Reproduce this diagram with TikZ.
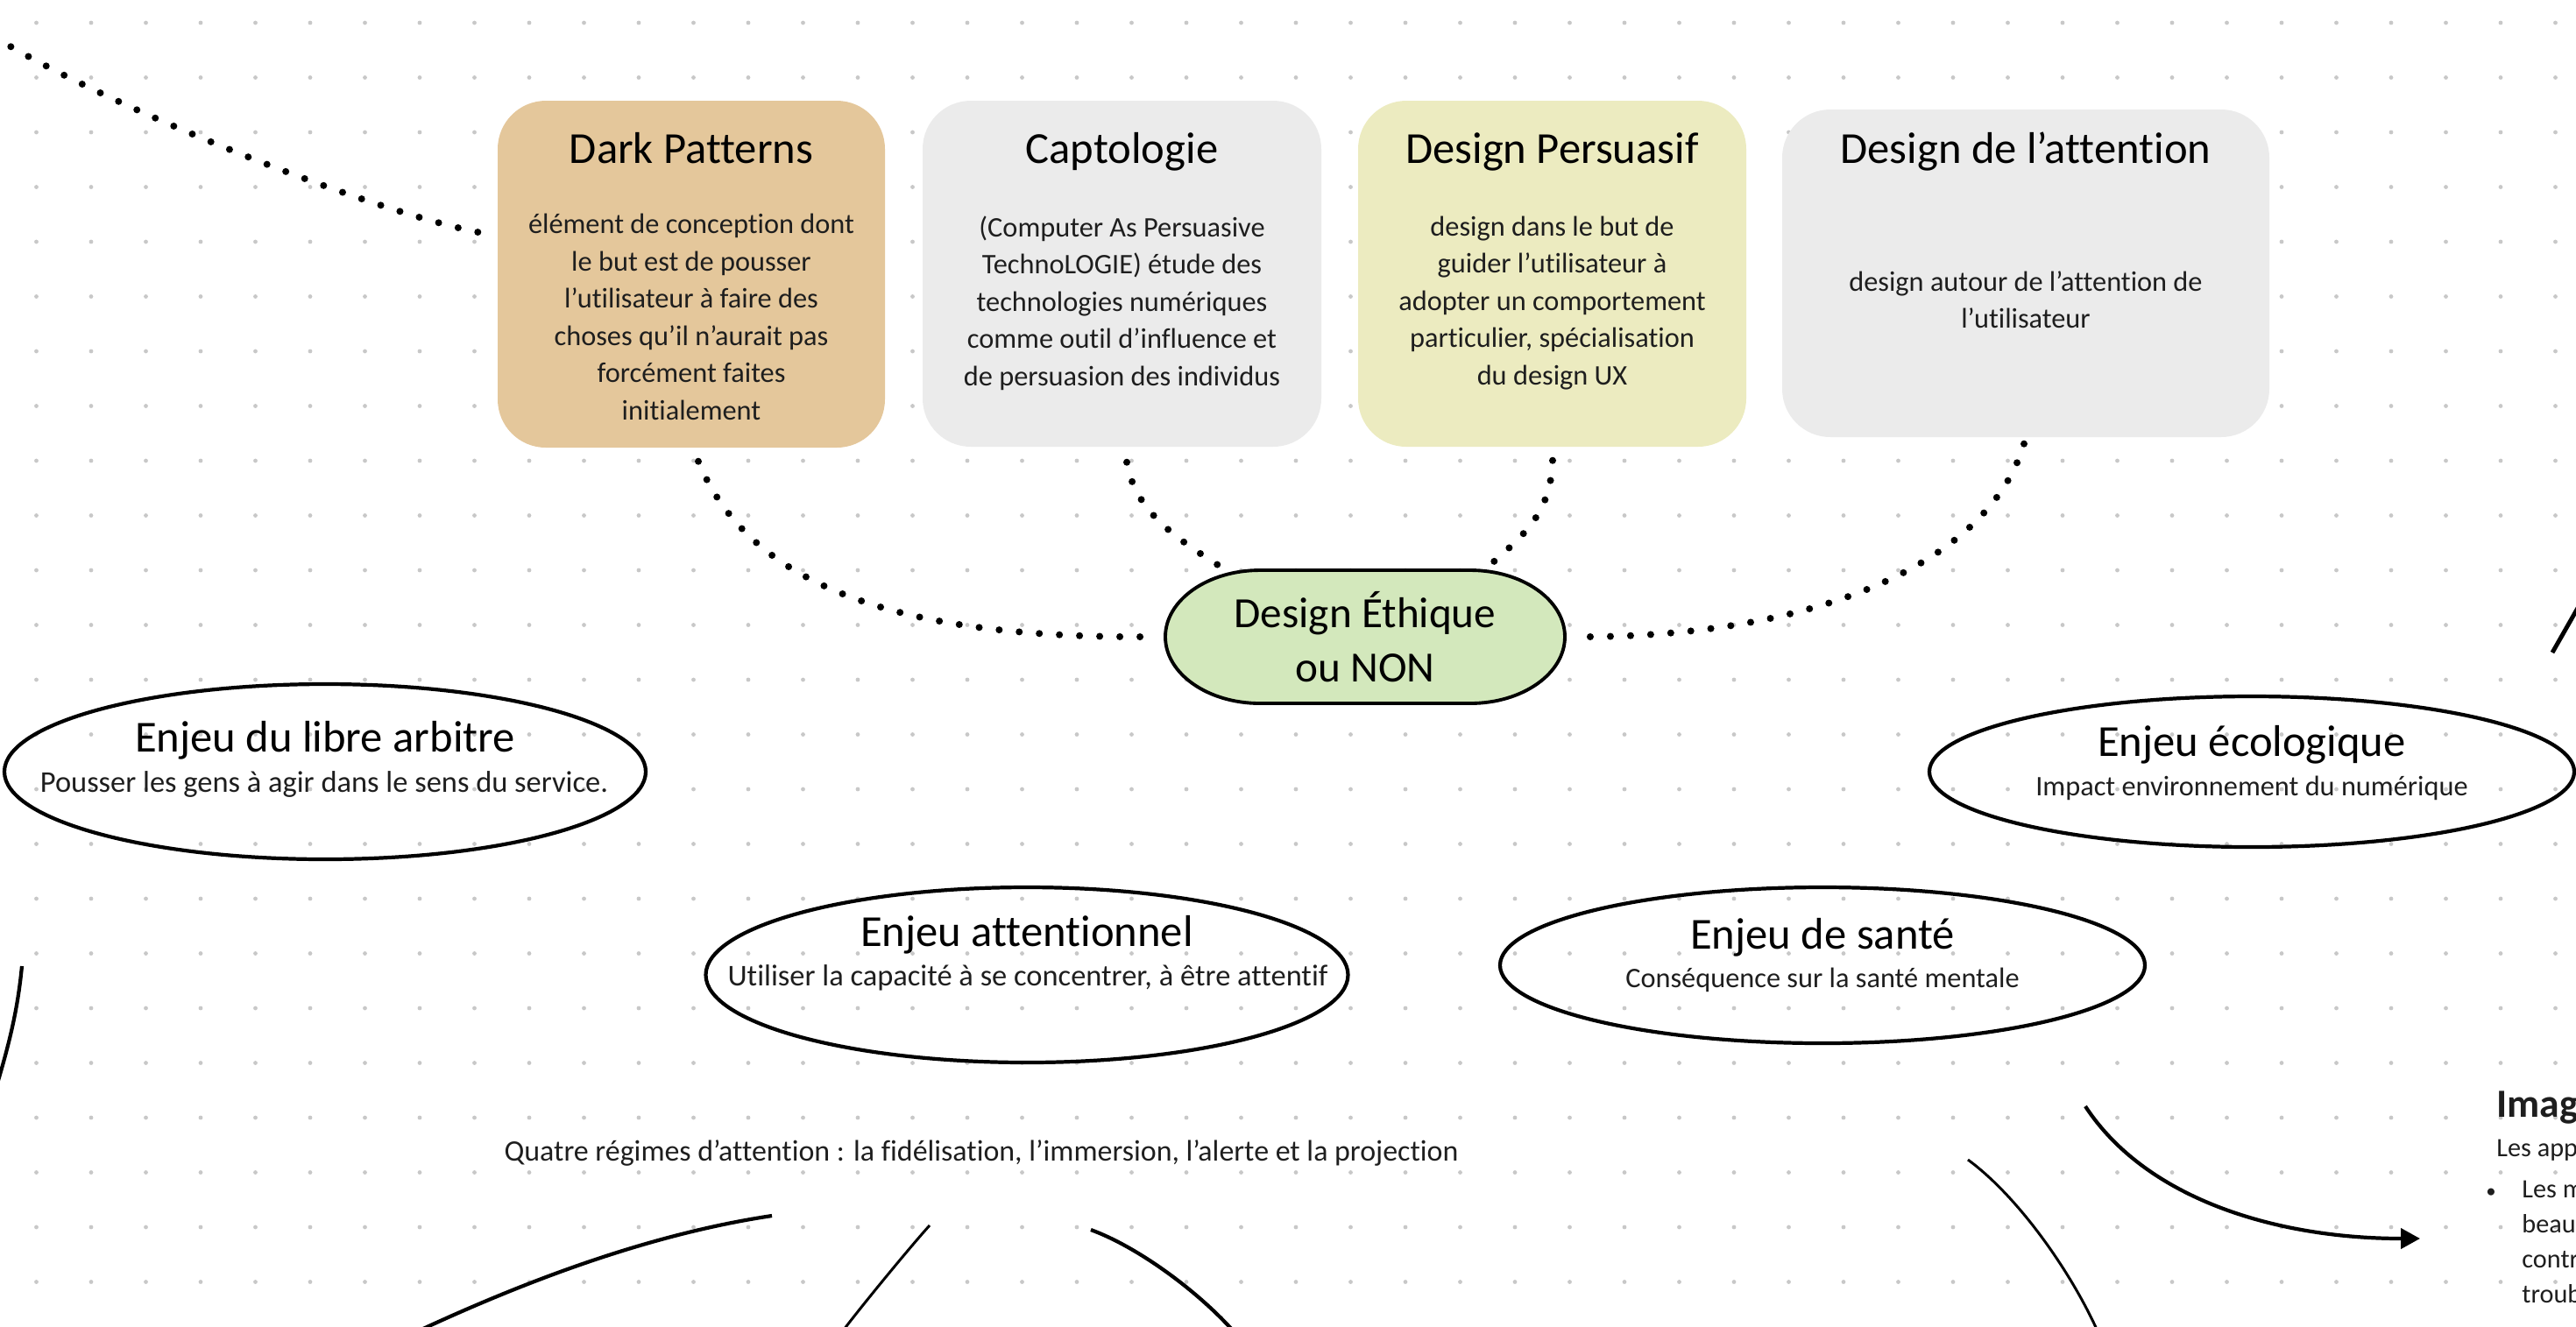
\documentclass[tikz,border=0pt]{standalone}
\usepackage{fontspec}
\setmainfont{Carlito}[Ligatures={TeX,NoCommon}]
\usetikzlibrary{arrows.meta,shapes.geometric}

\definecolor{tanfill}{HTML}{E4C79B}
\definecolor{greyfill}{HTML}{EBEBEB}
\definecolor{paleyellow}{HTML}{ECEBC0}
\definecolor{mintfill}{HTML}{D3E8BC}
\definecolor{griddot}{HTML}{C8C8C8}
\definecolor{inkgrey}{HTML}{1E1E1E}

\tikzset{
  cardbox/.style={rounded corners=0.55cm, inner sep=0pt},
  cardtitle/.style={anchor=base, font=\fontsize{14.4}{17}\selectfont},
  cardbody/.style={align=center, text=inkgrey, font=\fontsize{9.2}{12.1}\selectfont},
  enjeu/.style={ellipse, draw, line width=1.2pt, inner sep=0pt},
  enjeutitle/.style={anchor=base, font=\fontsize{14.4}{17}\selectfont},
  enjeutext/.style={anchor=base, text=inkgrey, font=\fontsize{9.2}{11}\selectfont},
  widetext/.style={enjeutext, font=\fontsize{9.8}{11}\selectfont},
  sidetext/.style={text=inkgrey, font=\fontsize{8.6}{10}\selectfont},
  dotlink/.style={line width=0.08cm, line cap=round, dash pattern=on 0pt off 0.23cm},
  inkline/.style={line width=1.2pt},
  thinline/.style={line width=0.85pt},
}

\begin{document}
\begin{tikzpicture}
        \useasboundingbox (0,0) rectangle (29.4,-15.14);
        \clip (0,0) rectangle (29.4,-15.14);

        \foreach \i in {0,...,46}
          \foreach \j in {0,...,23}
            \fill[griddot] (0.415+0.625*\i, -0.26-0.625*\j) circle (0.024);

        \node[cardbox, fill=tanfill, minimum width=4.42cm, minimum height=3.96cm] (dark) at (7.89,-3.13) {};
        \node[cardtitle] (darktitle) at (7.89,-1.86) {Dark Patterns};
        \node[cardbody] (darkbody) at (7.89,-3.62) {élément de conception dont\\le but est de pousser\\l’utilisateur à faire des\\choses qu’il n’aurait pas\\forcément faites\\initialement};

        \node[cardbox, fill=greyfill, minimum width=4.55cm, minimum height=3.95cm] (capto) at (12.805,-3.125) {};
        \node[cardtitle] (captotitle) at (12.805,-1.86) {Captologie};
        \node[cardbody] (captobody) at (12.805,-3.46) {(Computer As Persuasive\\TechnoLOGIE) étude des\\technologies numériques\\comme outil d’influence et\\de persuasion des individus};

        \node[cardbox, fill=paleyellow, minimum width=4.43cm, minimum height=3.95cm] (persuasif) at (17.715,-3.125) {};
        \node[cardtitle] (persuasiftitle) at (17.715,-1.86) {Design Persuasif};
        \node[cardbody] (persuasifbody) at (17.715,-3.46) {design dans le but de\\guider l’utilisateur à\\adopter un comportement\\particulier, spécialisation\\du design UX};

        \node[cardbox, fill=greyfill, minimum width=5.56cm, minimum height=3.74cm] (attention) at (23.12,-3.12) {};
        \node[cardtitle] (attentiontitle) at (23.12,-1.86) {Design de l’attention};
        \node[cardbody] (attentionbody) at (23.12,-3.42) {design autour de l’attention de\\l’utilisateur};

        \draw[fill=mintfill, line width=1.1pt] (14.38,-6.51) -- (16.78,-6.51)
            arc[start angle=90, end angle=-90, x radius=1.08, y radius=0.76]
            -- (14.38,-8.03)
            arc[start angle=270, end angle=90, x radius=1.08, y radius=0.76] -- cycle;
        \node[minimum width=4.56cm, minimum height=1.52cm, align=center,
              font=\fontsize{14}{17.8}\selectfont] (ethique) at (15.58,-7.27) {Design Éthique\\ou NON};

        \coordinate (farleft) at (-0.05,-0.43);
        \draw[dotlink] ([shift={(-0.22,0.48)}]dark.west) .. controls (4.20,-2.40) and (1.30,-1.25) .. (farleft);
        \draw[dotlink] ([shift={(0.08,-0.15)}]dark.south) .. controls (8.60,-6.80) and (10.50,-7.28) .. ([xshift=-0.21cm]ethique.west);
        \draw[dotlink] ([shift={(0.055,-0.17)}]capto.south) .. controls (12.95,-5.80) and (13.35,-6.10) .. ([shift={(-1.68,0.82)}]ethique.center);
        \draw[dotlink] ([shift={(0.005,-0.15)}]persuasif.south) .. controls (17.70,-5.85) and (17.40,-6.10) .. ([shift={(1.46,0.85)}]ethique.center);
        \draw[dotlink] ([shift={(-0.02,-0.07)}]attention.south) .. controls (22.70,-6.40) and (20.80,-7.26) .. ([xshift=0.21cm]ethique.east);

        \node[enjeu, minimum width=7.32cm, minimum height=2.00cm] (libre) at (3.71,-8.81) {};
        \node[enjeutitle] (libretitle) at (3.71,-8.58) {Enjeu du libre arbitre};
        \node[widetext] (libretext) at (3.70,-9.04) {Pousser les gens à agir dans le sens du service.};

        \node[enjeu, minimum width=7.33cm, minimum height=2.00cm] (attentionnel) at (11.72,-11.13) {};
        \node[enjeutitle] (attentionneltitle) at (11.72,-10.80) {Enjeu attentionnel};
        \node[widetext] (attentionneltext) at (11.73,-11.25) {Utiliser la capacité à se concentrer, à être attentif};

        \node[enjeu, minimum width=7.36cm, minimum height=1.72cm] (ecolo) at (25.70,-8.81) {};
        \node[enjeutitle] (ecolotitle) at (25.70,-8.63) {Enjeu écologique};
        \node[enjeutext] (ecolotext) at (25.70,-9.08) {Impact environnement du numérique};

        \node[enjeu, minimum width=7.36cm, minimum height=1.78cm] (sante) at (20.80,-11.02) {};
        \node[enjeutitle] (santetitle) at (20.80,-10.83) {Enjeu de santé};
        \node[enjeutext] (santetext) at (20.80,-11.27) {Conséquence sur la santé mentale};

        \node[enjeutext, font=\fontsize{9.65}{11}\selectfont] (regimes) at (11.20,-13.25) {Quatre régimes d’attention : la fidélisation, l’immersion, l’alerte et la projection};

        \coordinate (leftarcA) at (0.25,-11.03);
        \coordinate (leftarcB) at (-0.10,-12.60);
        \draw[inkline] (leftarcA) .. controls (0.20,-11.55) and (0.10,-11.95) .. (leftarcB);

        \coordinate (lowarcA) at (8.81,-13.88);
        \coordinate (lowarcB) at (4.70,-15.23);
        \draw[inkline] (lowarcA) .. controls (7.425,-14.087) and (6.00,-14.62) .. (lowarcB);

        \coordinate (lowlineA) at (10.61,-13.99);
        \coordinate (lowlineB) at (9.60,-15.22);
        \draw[thinline] (lowlineA) .. controls (10.40,-14.22) and (9.80,-14.95) .. (lowlineB);

        \coordinate (lowbendA) at (12.45,-14.04);
        \coordinate (lowbendB) at (14.08,-15.20);
        \draw[inkline] (lowbendA) .. controls (12.97,-14.23) and (13.65,-14.72) .. (lowbendB);

        \coordinate (santelineA) at (22.46,-13.24);
        \coordinate (santelineB) at (23.95,-15.22);
        \draw[thinline] (santelineA) .. controls (23.02,-13.65) and (23.63,-14.50) .. (santelineB);

        \coordinate (arrowA) at (23.80,-12.63);
        \coordinate (arrowB) at (27.62,-14.14);
        \draw[inkline, -{Triangle[length=0.22cm, width=0.23cm]}] (arrowA) .. controls (24.50,-13.70) and (26.00,-14.14) .. (arrowB);

        \coordinate (edgelineA) at (29.13,-7.45);
        \coordinate (edgelineB) at (29.50,-6.80);
        \draw[inkline, line width=1.4pt] (edgelineA) -- (edgelineB);

        \node[anchor=base west, text=inkgrey, font=\bfseries\fontsize{13}{15}\selectfont] (imag) at (28.37,-12.75) {Imag};
        \node[anchor=base west, sidetext] (lesapp) at (28.37,-13.20) {Les app};
        \node[anchor=base, sidetext, font=\fontsize{6.5}{10}\selectfont] (puce) at (28.43,-13.67) {•};
        \node[anchor=base west, sidetext] (lesm) at (28.66,-13.67) {Les m};
        \node[anchor=base west, sidetext] (beaut) at (28.66,-14.07) {beaut};
        \node[anchor=base west, sidetext] (contri) at (28.66,-14.47) {contri};
        \node[anchor=base west, sidetext] (troub) at (28.66,-14.87) {troub};

    \end{tikzpicture}
\end{document}
